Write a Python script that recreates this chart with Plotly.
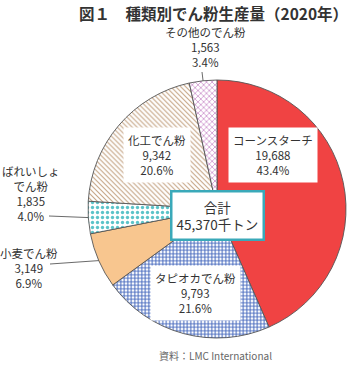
import math
import plotly.graph_objects as go

# Starch production by type, 2020 (thousand tonnes)
categories = ["コーンスターチ", "タピオカでん粉", "小麦でん粉", "ばれいしょでん粉", "化工でん粉", "その他のでん粉"]
values = [19688, 9793, 3149, 1835, 9342, 1563]
shares = [43.4, 21.6, 6.9, 4.0, 20.6, 3.4]
label_lines = [
    ["コーンスターチ"],
    ["タピオカでん粉"],
    ["小麦でん粉"],
    ["ばれいしょ", "でん粉"],
    ["化工でん粉"],
    ["その他のでん粉"],
]
total = 45370

W, H = 350, 365
CX, CY, R = 217, 209, 129  # pie centre and radius in pixels

fill_colors = ["#F04343", "#cfdaf1", "#F8C68F", "#eaf8f8", "#ead9c6", "#f3dff0"]
patterns = dict(
    shape=["", "+", "", ".", "\\", "x"],
    fgcolor=["#F04343", "#4568bd", "#F8C68F", "#5cc3c9", "#c4a281", "#c07bc0"],
    size=[4, 3.5, 4, 5, 3.5, 4],
    solidity=[0.3, 0.5, 0.3, 0.35, 0.3, 0.3],
)

fig = go.Figure(go.Pie(
    labels=categories,
    values=values,
    sort=False,
    direction="clockwise",
    rotation=0,
    textinfo="none",
    hoverinfo="label+value+percent",
    marker=dict(colors=fill_colors, line=dict(color="#555555", width=0.9), pattern=patterns),
    domain=dict(x=[(CX - R) / W, (CX + R) / W], y=[1 - (CY + R) / H, 1 - (CY - R) / H]),
    showlegend=False,
))

FONT = "Noto Sans CJK JP"


def px(x, y):
    return x / W, 1 - y / H


def label_text(i):
    return "<br>".join(label_lines[i] + [f"{values[i]:,}", f"{shares[i]}%"])


def edge_point(i):
    # midpoint of slice i on the rim, measured clockwise from 12 o'clock
    start = sum(values[:i]) / sum(values)
    mid = start + values[i] / sum(values) / 2
    a = 2 * math.pi * mid
    return CX + R * math.sin(a), CY - R * math.cos(a)


def note(x, y, text, **kw):
    ax, ay = px(x, y)
    d = dict(x=ax, y=ay, xref="paper", yref="paper", text=text, showarrow=False,
             xanchor="center", yanchor="middle", align="center")
    d.update(kw)
    return d


annotations = []
shapes = []
label_font = dict(family=FONT, size=11.5, color="#333333")

# labels drawn inside the pie, on white boxes
inner = {0: (273, 155), 1: (195, 293), 4: (157, 155)}
for i, (x, y) in inner.items():
    annotations.append(note(x, y, label_text(i), font=label_font, bgcolor="white", borderpad=4))

# outside labels with leader lines
outer = {5: (206, 47, (202, 72)), 3: (31, 193, (49, 216)), 2: (29, 268, (50, 264))}
for i, (x, y, start) in outer.items():
    annotations.append(note(x, y, label_text(i), font=label_font))
    ex, ey = edge_point(i)
    x0, y0 = px(*start)
    x1, y1 = px(ex, ey)
    shapes.append(dict(type="line", xref="paper", yref="paper", x0=x0, y0=y0, x1=x1, y1=y1,
                       line=dict(color="#444444", width=0.8)))

# total box in the centre
annotations.append(note(
    217, 215, "合計<br>" + f"{total:,}" + "千トン",
    font=dict(family=FONT, size=13.5, color="#333333"),
    bgcolor="white", bordercolor="#3aa9b9", borderwidth=2.5, borderpad=4,
))

# title and source
annotations.append(note(
    213, 13, "<b>図１　種類別でん粉生産量（2020年）</b>",
    font=dict(family=FONT, size=15.5, color="#333333"),
))
annotations.append(note(
    215, 355, "資料：LMC International",
    font=dict(family=FONT, size=10, color="#666666"),
))

fig.update_layout(
    width=W, height=H,
    margin=dict(l=0, r=0, t=0, b=0),
    paper_bgcolor="white",
    plot_bgcolor="white",
    annotations=annotations,
    shapes=shapes,
)

fig.write_html("out.html")
